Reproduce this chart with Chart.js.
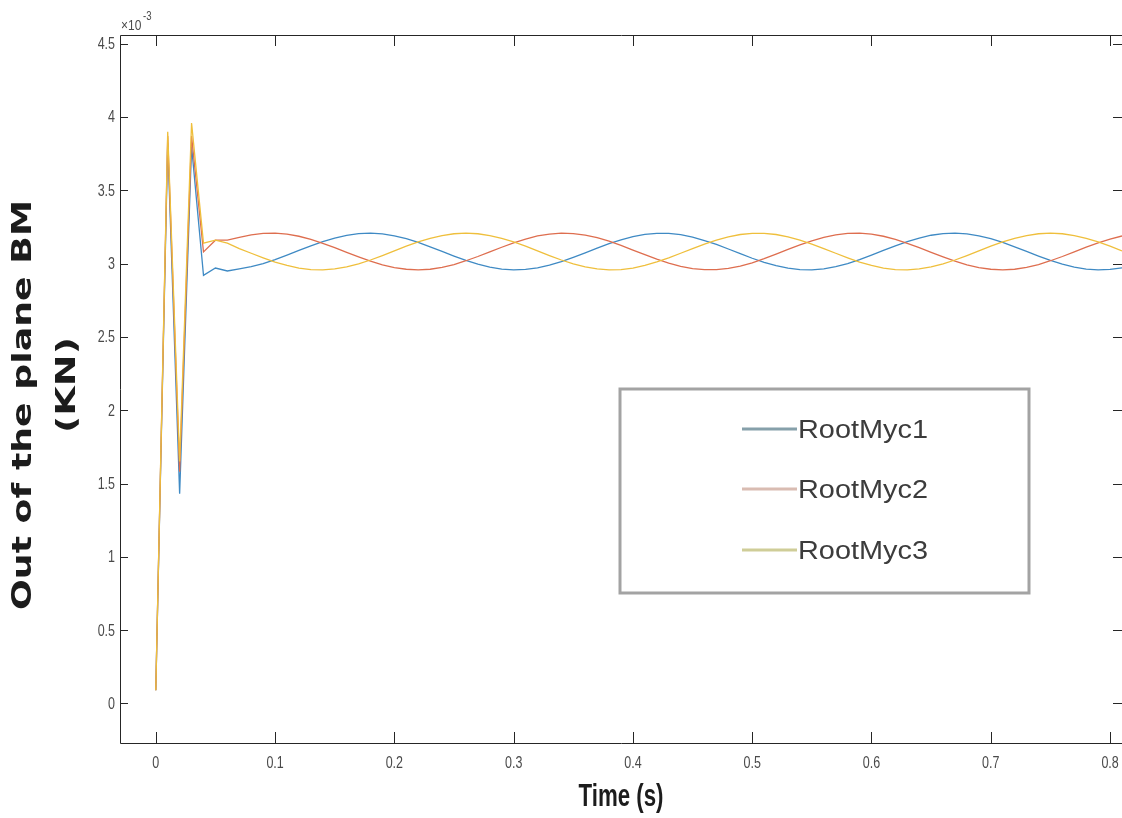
<!DOCTYPE html>
<html>
<head>
<meta charset="utf-8">
<script src="https://cdn.jsdelivr.net/npm/chart.js@4.4.0/dist/chart.umd.min.js"></script>
<style>
  html, body { margin: 0; padding: 0; background: #fff; }
  canvas { display: block; }
</style>
</head>
<body>
<canvas id="chart" width="1122" height="818"></canvas>
<script>
// time axis (s)
var times = [
  0.00, 0.01, 0.02, 0.03, 0.04, 0.05, 0.06, 0.07, 0.08, 0.09,
  0.10, 0.11, 0.12, 0.13, 0.14, 0.15, 0.16, 0.17, 0.18, 0.19,
  0.20, 0.21, 0.22, 0.23, 0.24, 0.25, 0.26, 0.27, 0.28, 0.29,
  0.30, 0.31, 0.32, 0.33, 0.34, 0.35, 0.36, 0.37, 0.38, 0.39,
  0.40, 0.41, 0.42, 0.43, 0.44, 0.45, 0.46, 0.47, 0.48, 0.49,
  0.50, 0.51, 0.52, 0.53, 0.54, 0.55, 0.56, 0.57, 0.58, 0.59,
  0.60, 0.61, 0.62, 0.63, 0.64, 0.65, 0.66, 0.67, 0.68, 0.69,
  0.70, 0.71, 0.72, 0.73, 0.74, 0.75, 0.76, 0.77, 0.78, 0.79,
  0.80, 0.81
];

// out of plane root bending moment, x 10^-3
var rootMyc1 = [
  0.09, 3.82, 1.43, 3.80, 2.92, 2.97, 2.95, 2.965, 2.980, 3.001,
  3.028, 3.058, 3.090, 3.122, 3.151, 3.175, 3.193, 3.205, 3.208, 3.203,
  3.190, 3.171, 3.145, 3.115, 3.084, 3.052, 3.022, 2.997, 2.977, 2.963,
  2.958, 2.961, 2.972, 2.990, 3.014, 3.043, 3.074, 3.106, 3.137, 3.163,
  3.185, 3.200, 3.207, 3.207, 3.198, 3.181, 3.158, 3.131, 3.100, 3.068,
  3.037, 3.009, 2.986, 2.969, 2.960, 2.958, 2.965, 2.980, 3.001, 3.028,
  3.058, 3.090, 3.122, 3.151, 3.175, 3.194, 3.205, 3.208, 3.203, 3.190,
  3.171, 3.145, 3.115, 3.084, 3.052, 3.022, 2.997, 2.977, 2.963, 2.958,
  2.961, 2.972
];
var rootMyc2 = [
  0.09, 3.87, 1.58, 3.87, 3.08, 3.16, 3.16, 3.179, 3.196, 3.206,
  3.208, 3.201, 3.187, 3.166, 3.139, 3.109, 3.077, 3.046, 3.017, 2.992,
  2.973, 2.962, 2.958, 2.962, 2.975, 2.994, 3.020, 3.049, 3.081, 3.112,
  3.142, 3.168, 3.189, 3.202, 3.208, 3.205, 3.195, 3.177, 3.153, 3.125,
  3.093, 3.061, 3.031, 3.004, 2.982, 2.966, 2.959, 2.959, 2.968, 2.984,
  3.006, 3.034, 3.065, 3.097, 3.128, 3.156, 3.179, 3.196, 3.206, 3.208,
  3.201, 3.187, 3.166, 3.139, 3.109, 3.077, 3.046, 3.017, 2.992, 2.973,
  2.962, 2.958, 2.962, 2.975, 2.994, 3.020, 3.049, 3.081, 3.113, 3.142,
  3.168, 3.189
];
var rootMyc3 = [
  0.09, 3.90, 1.65, 3.96, 3.14, 3.16, 3.14, 3.103, 3.071, 3.040,
  3.011, 2.988, 2.970, 2.960, 2.958, 2.964, 2.978, 2.999, 3.025, 3.055,
  3.087, 3.119, 3.148, 3.173, 3.192, 3.204, 3.208, 3.204, 3.192, 3.173,
  3.148, 3.119, 3.087, 3.055, 3.025, 2.999, 2.978, 2.964, 2.958, 2.960,
  2.970, 2.988, 3.012, 3.040, 3.071, 3.103, 3.134, 3.161, 3.183, 3.199,
  3.207, 3.207, 3.199, 3.183, 3.161, 3.134, 3.103, 3.071, 3.040, 3.011,
  2.988, 2.970, 2.960, 2.958, 2.964, 2.978, 2.999, 3.025, 3.055, 3.087,
  3.119, 3.148, 3.173, 3.192, 3.204, 3.208, 3.204, 3.192, 3.173, 3.148,
  3.119, 3.087
];

var seriesNames = ['RootMyc1', 'RootMyc2', 'RootMyc3'];
var xTicks = [0, 0.1, 0.2, 0.3, 0.4, 0.5, 0.6, 0.7, 0.8];
var xTickLabels = ['0', '0.1', '0.2', '0.3', '0.4', '0.5', '0.6', '0.7', '0.8'];
var yTicks = [0, 0.5, 1, 1.5, 2, 2.5, 3, 3.5, 4, 4.5];
var yTickLabels = ['0', '0.5', '1', '1.5', '2', '2.5', '3', '3.5', '4', '4.5'];

var lineColors = ['#3f8ac4', '#de6e4f', '#efbf3c'];
var legendColors = ['#86a0aa', '#d9bcb2', '#cfcd98'];

function points(vals) {
  return vals.map(function (v, i) { return { x: times[i], y: v }; });
}

// draw text squeezed/stretched to a given width
function fitText(ctx, s, x, y, font, width, align, color, rot) {
  ctx.save();
  ctx.font = font;
  ctx.fillStyle = color;
  ctx.textBaseline = 'middle';
  ctx.textAlign = align;
  var w = ctx.measureText(s).width;
  ctx.translate(x, y);
  if (rot) ctx.rotate(rot);
  ctx.scale(width / w, 1);
  ctx.fillText(s, 0, 0);
  ctx.restore();
}

function squeezeText(ctx, s, x, y, font, k, align, color) {
  ctx.save();
  ctx.font = font;
  ctx.fillStyle = color;
  ctx.textBaseline = 'middle';
  ctx.textAlign = align;
  ctx.translate(x, y);
  ctx.scale(k, 1);
  ctx.fillText(s, 0, 0);
  ctx.restore();
}

var axesPlugin = {
  id: 'matlabAxes',
  afterDraw: function (chart) {
    var ctx = chart.ctx, a = chart.chartArea;
    var xs = chart.scales.x, ys = chart.scales.y;
    ctx.save();
    ctx.strokeStyle = '#262626';
    ctx.lineWidth = 1;
    ctx.beginPath();
    ctx.moveTo(a.left + 0.5, a.top + 0.5);
    ctx.lineTo(a.right + 0.5, a.top + 0.5);
    ctx.moveTo(a.left + 0.5, a.top + 0.5);
    ctx.lineTo(a.left + 0.5, a.bottom + 0.5);
    ctx.lineTo(a.right + 0.5, a.bottom + 0.5);
    ctx.lineTo(a.right + 0.5, a.top + 0.5);
    ctx.stroke();

    // inward ticks on all four sides
    ctx.beginPath();
    xTicks.forEach(function (v) {
      var px = Math.round(xs.getPixelForValue(v)) + 0.5;
      ctx.moveTo(px, a.bottom);
      ctx.lineTo(px, a.bottom - 11);
      ctx.moveTo(px, a.top);
      ctx.lineTo(px, a.top + 11);
    });
    yTicks.forEach(function (v) {
      var py = Math.round(ys.getPixelForValue(v)) + 0.5;
      ctx.moveTo(a.left, py);
      ctx.lineTo(a.left + 8, py);
      ctx.moveTo(a.right, py);
      ctx.lineTo(a.right - 9, py);
    });
    ctx.stroke();
    ctx.restore();

    // tick labels
    xTicks.forEach(function (v, i) {
      squeezeText(ctx, xTickLabels[i], xs.getPixelForValue(v), a.bottom + 21,
        '16px "Liberation Sans", Arial, sans-serif', 0.78, 'center', '#4a4a4a');
    });
    yTicks.forEach(function (v, i) {
      squeezeText(ctx, yTickLabels[i], a.left - 5, ys.getPixelForValue(v) + 1,
        '16px "Liberation Sans", Arial, sans-serif', 0.78, 'right', '#4a4a4a');
    });

    // exponent label
    squeezeText(ctx, '\u00d710', a.left + 1, 26, '15px "Liberation Sans", Arial, sans-serif', 0.8, 'left', '#4a4a4a');
    squeezeText(ctx, '-3', a.left + 23, 17, '12px "Liberation Sans", Arial, sans-serif', 0.8, 'left', '#4a4a4a');

    // axis titles
    fitText(ctx, 'Time (s)', 621, 797, 'bold 32px "Liberation Sans", Arial, sans-serif', 85, 'center', '#1c1c1c');
    fitText(ctx, 'Out of the plane BM', 24, 405, 'bold 27px "DejaVu Sans", sans-serif', 410, 'center', '#1c1c1c', -Math.PI / 2);
    fitText(ctx, '(KN)', 68, 385, 'bold 27px "DejaVu Sans", sans-serif', 96, 'center', '#1c1c1c', -Math.PI / 2);

    // legend box
    ctx.save();
    ctx.fillStyle = '#ffffff';
    ctx.fillRect(620, 389, 409, 204);
    ctx.strokeStyle = '#a3a3a3';
    ctx.lineWidth = 3;
    ctx.strokeRect(620, 389, 409, 204);
    var rows = [431, 491, 552];
    seriesNames.forEach(function (name, i) {
      ctx.strokeStyle = legendColors[i];
      ctx.lineWidth = 3;
      ctx.beginPath();
      ctx.moveTo(742, rows[i] - 2);
      ctx.lineTo(797, rows[i] - 2);
      ctx.stroke();
      fitText(ctx, name, 798, rows[i], '25px "Liberation Sans", Arial, sans-serif', 130, 'left', '#3c3c3c');
    });
    ctx.restore();
  }
};

var ctx = document.getElementById('chart').getContext('2d');
new Chart(ctx, {
  type: 'line',
  data: {
    datasets: [
      { label: seriesNames[0], data: points(rootMyc1), borderColor: lineColors[0], order: 3 },
      { label: seriesNames[1], data: points(rootMyc2), borderColor: lineColors[1], order: 2 },
      { label: seriesNames[2], data: points(rootMyc3), borderColor: lineColors[2], order: 1 }
    ]
  },
  options: {
    responsive: false,
    animation: false,
    devicePixelRatio: 1,
    layout: { padding: { top: 35, right: 0, bottom: 0, left: 0 } },
    elements: {
      line: { borderWidth: 1.3, tension: 0, fill: false },
      point: { radius: 0 }
    },
    plugins: {
      legend: { display: false },
      tooltip: { enabled: false }
    },
    scales: {
      x: {
        type: 'linear',
        min: -0.03,
        max: 0.81,
        grid: { display: false },
        border: { display: false },
        ticks: { display: false },
        afterBuildTicks: function (s) { s.ticks = xTicks.map(function (v) { return { value: v }; }); },
        afterFit: function (s) { s.height = 75; }
      },
      y: {
        type: 'linear',
        min: -0.27,
        max: 4.56,
        grid: { display: false },
        border: { display: false },
        ticks: { display: false },
        afterBuildTicks: function (s) { s.ticks = yTicks.map(function (v) { return { value: v }; }); },
        afterFit: function (s) { s.width = 120; }
      }
    }
  },
  plugins: [axesPlugin]
});
</script>
</body>
</html>
